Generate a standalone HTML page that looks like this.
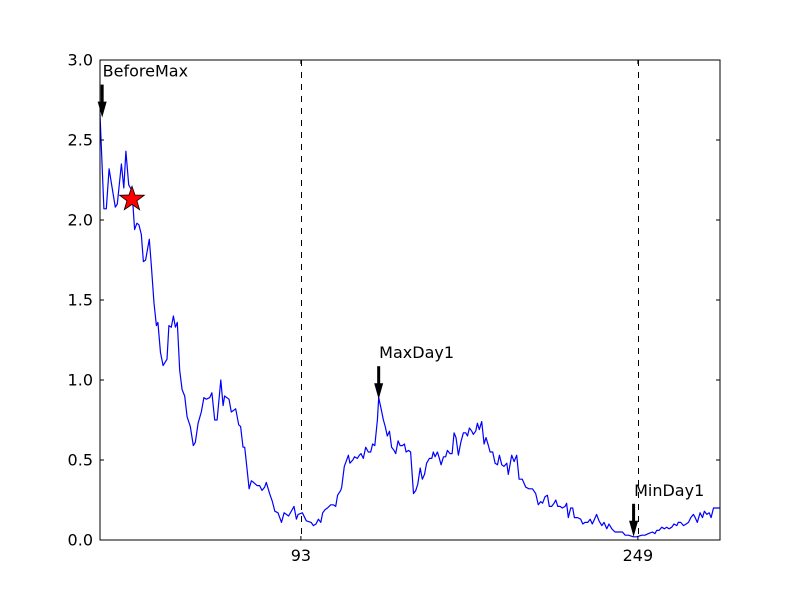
<!DOCTYPE html>
<html><head><meta charset="utf-8"><style>
html,body{margin:0;padding:0;background:#fff;}
svg{display:block;font-family:"DejaVu Sans","Liberation Sans",sans-serif;}
</style></head><body>
<svg id="chart" width="800" height="600" xmlns="http://www.w3.org/2000/svg"></svg>
<script>
const days = [0,1.8,2.9,4.2,5.5,7.1,8,9.9,11,12,13.3,14.5,15.3,16,17.1,18,19.1,20.1,21.1,22.8,23.8,25,26.1,26.8,28,29.2,31,31.9,33,34,34.9,35.8,36.9,38,39.2,40.3,41.8,43.2,44.1,45.4,46.9,48.1,49.2,50.8,51.8,53.1,54.2,55.9,57,57.7,59.7,60.8,62.8,64.2,65.1,66.2,67,68.1,69,70.1,71.1,72.7,73.9,75,76.2,77,78.5,79.8,80.9,82.4,84,85.2,87.3,89.8,90.9,91.7,93.7,95.5,
97.7,98.8,100,101.1,102.2,103.1,104.2,105.3,106.8,108,109.1,110,111.4,111.9,113.1,115,115.7,117,117.8,119.1,120.1,120.8,121.9,123,124.2,125.3,126.2,127.2,128.4,129,130.1,131.2,132,133,134,135,136.1,136.9,138,138.9,140,140.9,141.7,142.8,143.8,145.1,146.2,147.1,148.2,149.2,150.2,151.2,152.5,153.6,154.3,155.1,156.2,156.9,157.9,159,160,160.8,162,163,163.9,164.8,165.9,167,168.2,169.3,170.1,171,172.1,172.8,173.9,174.7,175.6,176.7,177.8,178.7,179.8,180.6,181.8,182.9,184,184.9,186,187,188.3,189,
190.6,191.7,192.9,194,195.5,197.1,198.6,200.2,201.7,202.9,204,204.9,206,207.1,208,209.1,210.2,211,211.9,213,214,215.3,216,216.8,217.9,218.8,219.6,221.1,222.5,223.5,224.5,225.8,226.9,227.9,228.9,229.9,231,232.3,233.3,234.6,235.6,236.9,238.4,240.3,241.8,243.1,244.6,246.9,248.5,250.8,252.3,253.9,255.7,256.9,257.7,258.8,260,261.3,262.3,263.4,264.7,265.7,267,267.7,268.8,270.1,271.3,272.4,273.5,274.7,275.5,276.5,277.8,278.9,279.8,280.9,282,282.9,284,286.3,287];
const values = [2.66,2.07,2.07,2.32,2.21,2.08,2.10,2.35,2.20,2.43,2.22,2.19,2.08,1.94,1.98,1.97,1.91,1.74,1.75,1.88,1.71,1.48,1.34,1.36,1.17,1.09,1.13,1.34,1.33,1.40,1.33,1.36,1.06,0.94,0.90,0.77,0.71,0.59,0.61,0.73,0.80,0.89,0.88,0.89,0.92,0.75,0.75,1.00,0.84,0.90,0.88,0.80,0.82,0.72,0.71,0.58,0.58,0.44,0.32,0.37,0.36,0.34,0.34,0.31,0.33,0.36,0.29,0.24,0.18,0.17,0.11,0.17,0.15,0.21,0.13,0.16,0.17,0.12,
0.11,0.09,0.10,0.13,0.11,0.17,0.19,0.20,0.22,0.22,0.21,0.28,0.31,0.33,0.46,0.53,0.48,0.50,0.52,0.51,0.53,0.54,0.51,0.58,0.55,0.55,0.60,0.59,0.75,0.89,0.82,0.75,0.71,0.65,0.68,0.58,0.56,0.54,0.62,0.59,0.59,0.60,0.55,0.56,0.55,0.29,0.31,0.35,0.45,0.38,0.41,0.48,0.51,0.51,0.55,0.52,0.55,0.52,0.47,0.52,0.52,0.56,0.54,0.54,0.67,0.64,0.53,0.61,0.67,0.67,0.65,0.70,0.68,0.66,0.68,0.73,0.69,0.74,0.60,0.64,0.59,0.55,0.55,0.48,0.47,0.53,0.47,0.46,0.48,0.41,
0.53,0.49,0.53,0.38,0.38,0.33,0.32,0.32,0.29,0.22,0.24,0.23,0.27,0.28,0.21,0.21,0.23,0.25,0.21,0.21,0.20,0.21,0.23,0.14,0.20,0.20,0.14,0.14,0.13,0.10,0.11,0.11,0.13,0.10,0.13,0.16,0.12,0.09,0.11,0.07,0.10,0.07,0.05,0.05,0.05,0.03,0.03,0.02,0.02,0.03,0.03,0.04,0.05,0.04,0.06,0.06,0.08,0.07,0.08,0.07,0.08,0.10,0.09,0.11,0.11,0.09,0.10,0.11,0.14,0.16,0.14,0.11,0.17,0.14,0.18,0.16,0.17,0.14,0.20,0.20,0.20];
const yTicks = [0,0.5,1,1.5,2,2.5,3];
const yTickLabels = ["0.0","0.5","1.0","1.5","2.0","2.5","3.0"];
const xTicks = [93,249];
const xTickLabels = ["93","249"];
const vLines = [93,249];
const starDay = [14.8];
const starValue = [2.13];
const annDays = [1,129,247];
const annValues = [2.64,0.88,0.02];
const annLabels = ["BeforeMax","MaxDay1","MinDay1"];

const L=100,R=720,T=60,B=540, XMIN=0,XMAX=287,YMIN=0,YMAX=3;
const sx=d=>L+(d-XMIN)/(XMAX-XMIN)*(R-L);
const sy=v=>B-(v-YMIN)/(YMAX-YMIN)*(B-T);
const svg=document.getElementById('chart');
const NS='http://www.w3.org/2000/svg';
function mk(tag,attrs,parent){const e=document.createElementNS(NS,tag);for(const k in attrs)e.setAttribute(k,attrs[k]);(parent||svg).appendChild(e);return e;}

vLines.forEach(d=>{
  const l=mk('line',{x1:Math.round(sx(d))+0.5,x2:Math.round(sx(d))+0.5,y1:T,y2:B,stroke:'#000','stroke-width':1,'stroke-dasharray':'6,6'});
  
  
});

const pts=days.map((d,i)=>sx(d).toFixed(1)+','+sy(values[i]).toFixed(1)).join(' ');
const line=mk('polyline',{points:pts,fill:'none',stroke:'#0000ff','stroke-width':1.2,'stroke-linejoin':'round'});



starDay.forEach((d,i)=>{
  const cx=sx(d),cy=sy(starValue[i]),ro=13,ri=5.2;let p=[];
  for(let k=0;k<10;k++){const r=k%2?ri:ro;const a=-Math.PI/2+k*Math.PI/5;p.push((cx+r*Math.cos(a)).toFixed(1)+','+(cy+r*Math.sin(a)).toFixed(1));}
  const s=mk('polygon',{points:p.join(' '),fill:'#ff0000',stroke:'#000','stroke-width':0.8});
  
  
});

annDays.forEach((d,i)=>{
  const x=sx(d),tip=sy(annValues[i]);
  const g=mk('g',{});
  
  
  mk('line',{x1:x,x2:x,y1:tip-33,y2:tip-14,stroke:'#000','stroke-width':3},g);
  mk('polygon',{points:`${x-4.5},${tip-16} ${x+4.5},${tip-16} ${x},${tip}`,fill:'#000'},g);
  const t=mk('text',{x:x+0.5,y:tip-41,'font-size':16,fill:'#000'},g);
  t.textContent=annLabels[i];
});

const fr=mk('rect',{x:L,y:T,width:R-L,height:B-T,fill:'none',stroke:'#000','stroke-width':1});



yTicks.forEach((v,i)=>{
  const y=sy(v);
  mk('line',{x1:L,x2:L+4,y1:y,y2:y,stroke:'#000','stroke-width':1});
  mk('line',{x1:R-4,x2:R,y1:y,y2:y,stroke:'#000','stroke-width':1});
  const t=mk('text',{x:L-7,y:y+5.5,'font-size':16,'text-anchor':'end',fill:'#000'});
  
  
  t.textContent=yTickLabels[i];
});
xTicks.forEach((d,i)=>{
  const x=sx(d);
  mk('line',{x1:x,x2:x,y1:B,y2:B-4,stroke:'#000','stroke-width':1});
  mk('line',{x1:x,x2:x,y1:T,y2:T+4,stroke:'#000','stroke-width':1});
  const t=mk('text',{x:x,y:B+21,'font-size':16,'text-anchor':'middle',fill:'#000'});
  
  
  t.textContent=xTickLabels[i];
});
</script>
</body></html>
